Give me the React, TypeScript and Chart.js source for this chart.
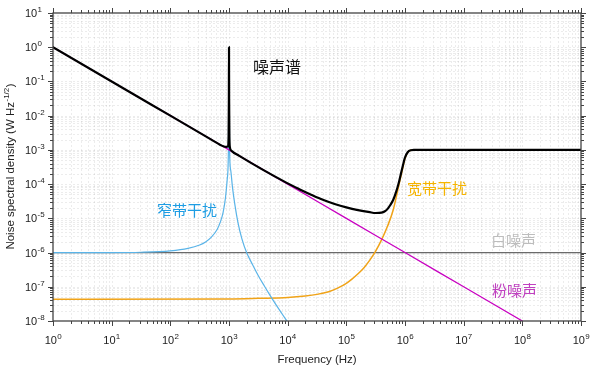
import React, { useEffect, useRef } from "react";
import { Chart, registerables } from "chart.js";

Chart.register(...registerables);

// ---- data ----
const xTickExponents = ["0", "1", "2", "3", "4", "5", "6", "7", "8", "9"];
const yTickExponents = ["1", "0", "-1", "-2", "-3", "-4", "-5", "-6", "-7", "-8"];

const totalFreq = [1, 10, 100, 500, 800, 900, 960, 985, 995, 1000, 1005, 1015, 1040, 1100, 1500, 1e4, 1.58e4, 2.51e4, 3.98e4, 6.31e4, 1e5, 1.58e5, 2.51e5, 3.16e5, 3.98e5, 4.47e5, 5.01e5, 5.62e5, 6.31e5, 7.08e5, 7.94e5, 8.91e5, 1e6, 1.12e6, 1.26e6, 1.41e6, 1e9];
const totalValue = [1, 0.1, 0.01, 2.0e-3, 1.27e-3, 1.22e-3, 1.25e-3, 2.5e-3, 0.03, 1.0, 0.03, 2.5e-3, 1.15e-3, 9.5e-4, 6.7e-4, 1.05e-4, 7.1e-5, 4.9e-5, 3.47e-5, 2.63e-5, 2.09e-5, 1.74e-5, 1.51e-5, 1.43e-5, 1.47e-5, 1.58e-5, 1.86e-5, 2.45e-5, 3.5e-5, 6.0e-5, 1.2e-4, 2.75e-4, 6.0e-4, 8.7e-4, 9.8e-4, 1e-3, 1e-3];

const pinkFreq = [1, 10, 100, 1e3, 1e4, 1e5, 1e6, 1e7, 1e8];
const pinkValue = [1, 0.1, 0.01, 1e-3, 1e-4, 1e-5, 1e-6, 1e-7, 1e-8];

const whiteFreq = [1, 1e9];
const whiteValue = [1e-6, 1e-6];

const narrowFreq = [1, 10, 31.6, 100, 200, 316, 398, 501, 631, 708, 794, 871, 933, 977, 1000, 1023, 1072, 1148, 1259, 1413, 1660, 1995, 2512, 3162, 3981, 5012, 6310, 7943, 10470];
const narrowValue = [1e-6, 1e-6, 1.02e-6, 1.12e-6, 1.32e-6, 1.66e-6, 2.04e-6, 2.82e-6, 4.8e-6, 7.6e-6, 1.5e-5, 4e-5, 1.4e-4, 1e-3, 1, 1e-3, 2.5e-4, 7.9e-5, 2.5e-5, 7.9e-6, 2.5e-6, 1e-6, 4.5e-7, 2.1e-7, 1.07e-7, 5.6e-8, 3.0e-8, 1.66e-8, 8.3e-9];

const broadFreq = [1, 1000, 3162, 1e4, 2e4, 3.16e4, 5.01e4, 7.08e4, 1e5, 1.26e5, 1.58e5, 2e5, 2.51e5, 3.16e5, 3.98e5, 5.01e5, 6.31e5, 7.94e5, 8.91e5, 1e6, 1.12e6, 1.26e6, 1.41e6, 1e9];
const broadValue = [4.3e-8, 4.4e-8, 4.6e-8, 4.9e-8, 5.4e-8, 6.0e-8, 7.2e-8, 9.1e-8, 1.26e-7, 1.7e-7, 2.4e-7, 3.6e-7, 6.0e-7, 1.1e-6, 2.34e-6, 5.75e-6, 1.78e-5, 1.0e-4, 2.4e-4, 5.6e-4, 8.6e-4, 9.8e-4, 1e-3, 1e-3];

const X_MIN = 1;
const X_MAX = 1e9;
const Y_MIN = 1e-8;
const Y_MAX = 10;

const toPoints = (xs: number[], ys: number[]) => xs.map((x, i) => ({ x, y: ys[i] }));

const LATIN = '"Liberation Sans", Arial, sans-serif';
const CJK = '"Noto Sans CJK SC", sans-serif';

function decadeValues(min: number, max: number): { v: number; major: boolean }[] {
  const out: { v: number; major: boolean }[] = [];
  const e0 = Math.round(Math.log10(min));
  const e1 = Math.round(Math.log10(max));
  for (let e = e0; e <= e1; e++) {
    for (let m = 1; m <= 9; m++) {
      const v = m * Math.pow(10, e);
      if (v > max * 1.0001) break;
      out.push({ v, major: m === 1 });
    }
  }
  return out;
}

function drawPow(ctx: CanvasRenderingContext2D, exp: string, x: number, y: number, align: "center" | "left") {
  ctx.font = `11px ${LATIN}`;
  const wb = ctx.measureText("10").width;
  ctx.font = `8px ${LATIN}`;
  const we = ctx.measureText(exp).width;
  const total = wb + we;
  const sx = align === "center" ? x - total / 2 : x;
  ctx.font = `11px ${LATIN}`;
  ctx.fillText("10", sx, y);
  ctx.font = `8px ${LATIN}`;
  ctx.fillText(exp, sx + wb + 0.3, y - 5);
}

const framePlugin = {
  id: "frameAndLabels",
  beforeDatasetsDraw(chart: any) {
    const { ctx, chartArea: a, scales } = chart;
    const xs = scales.x;
    const ys = scales.y;
    ctx.save();
    ctx.strokeStyle = "rgba(0,0,0,0.075)";
    ctx.lineWidth = 1;
    ctx.setLineDash([2, 2]);
    for (const t of decadeValues(X_MIN, X_MAX)) {
      const px = Math.round(xs.getPixelForValue(t.v)) + 0.5;
      if (px <= a.left + 1 || px >= a.right - 1) continue;
      ctx.beginPath();
      ctx.moveTo(px, a.top);
      ctx.lineTo(px, a.bottom);
      ctx.stroke();
    }
    for (const t of decadeValues(Y_MIN, Y_MAX)) {
      const py = Math.round(ys.getPixelForValue(t.v)) + 0.5;
      if (py <= a.top + 1 || py >= a.bottom - 1) continue;
      ctx.beginPath();
      ctx.moveTo(a.left, py);
      ctx.lineTo(a.right, py);
      ctx.stroke();
    }
    ctx.restore();
  },
  afterDatasetsDraw(chart: any) {
    const { ctx, chartArea: a, scales } = chart;
    const xs = scales.x;
    const ys = scales.y;
    ctx.save();
    ctx.setLineDash([]);
    // frame
    ctx.strokeStyle = "#444";
    ctx.lineWidth = 1.3;
    ctx.strokeRect(a.left, a.top, a.right - a.left, a.bottom - a.top);
    // ticks
    ctx.lineWidth = 1;
    ctx.strokeStyle = "#444";
    for (const t of decadeValues(X_MIN, X_MAX)) {
      const px = Math.round(xs.getPixelForValue(t.v)) + 0.5;
      const len = t.major ? 5 : 3;
      ctx.beginPath();
      ctx.moveTo(px, a.bottom);
      ctx.lineTo(px, a.bottom + len);
      ctx.moveTo(px, a.top);
      ctx.lineTo(px, a.top - len);
      ctx.stroke();
    }
    for (const t of decadeValues(Y_MIN, Y_MAX)) {
      const py = Math.round(ys.getPixelForValue(t.v)) + 0.5;
      const len = t.major ? 5 : 3;
      ctx.beginPath();
      ctx.moveTo(a.left, py);
      ctx.lineTo(a.left - len, py);
      ctx.moveTo(a.right, py);
      ctx.lineTo(a.right + len, py);
      ctx.stroke();
    }
    // tick labels
    ctx.fillStyle = "#222";
    ctx.textAlign = "left";
    ctx.textBaseline = "alphabetic";
    xTickExponents.forEach((e) => {
      const px = xs.getPixelForValue(Math.pow(10, Number(e)));
      drawPow(ctx, e, px, 344, "center");
    });
    yTickExponents.forEach((e) => {
      const py = ys.getPixelForValue(Math.pow(10, Number(e)));
      drawPow(ctx, e, 25, py + 4, "left");
    });
    // x title
    ctx.font = `11.5px ${LATIN}`;
    ctx.textAlign = "center";
    ctx.fillText("Frequency (Hz)", (a.left + a.right) / 2, 363);
    // y title
    ctx.save();
    ctx.translate(14, (a.top + a.bottom) / 2);
    ctx.rotate(-Math.PI / 2);
    ctx.textAlign = "left";
    const main = "Noise spectral density (W Hz";
    const sup = "-1/2";
    const close = ")";
    ctx.font = `11.5px ${LATIN}`;
    const w1 = ctx.measureText(main).width;
    const w3 = ctx.measureText(close).width;
    ctx.font = `8px ${LATIN}`;
    const w2 = ctx.measureText(sup).width;
    const start = -(w1 + w2 + w3) / 2;
    ctx.font = `11.5px ${LATIN}`;
    ctx.fillText(main, start, 0);
    ctx.font = `8px ${LATIN}`;
    ctx.fillText(sup, start + w1 + 0.5, -5);
    ctx.font = `11.5px ${LATIN}`;
    ctx.fillText(close, start + w1 + w2 + 1, 0);
    ctx.restore();
    // annotations
    ctx.textAlign = "left";
    ctx.textBaseline = "middle";
    const notes: [string, number, number, string, number][] = [
      ["噪声谱", 253, 67, "#111111", 16],
      ["窄带干扰", 157, 210, "#1E9DE3", 15],
      ["宽带干扰", 407, 188, "#F5B400", 15],
      ["白噪声", 491, 240, "#BDBDBD", 15],
      ["粉噪声", 492, 290, "#C040C0", 15],
    ];
    for (const [txt, x, y, c, s] of notes) {
      ctx.font = `${s}px ${CJK}`;
      ctx.fillStyle = c;
      ctx.fillText(txt, x, y);
    }
    ctx.restore();
  },
};

export default function App() {
  const ref = useRef<HTMLCanvasElement | null>(null);
  useEffect(() => {
    if (!ref.current) return;
    const line = (data: any[], color: string, width: number) => ({
      data,
      borderColor: color,
      backgroundColor: color,
      borderWidth: width,
      pointRadius: 0,
      fill: false,
      cubicInterpolationMode: "monotone" as const,
      borderJoinStyle: "round" as const,
      borderCapStyle: "round" as const,
    });
    const chart = new Chart(ref.current, {
      type: "line",
      data: {
        datasets: [
          line(toPoints(totalFreq, totalValue), "#000000", 2.2),
          line(toPoints(pinkFreq, pinkValue), "#C800C0", 1.3),
          line(toPoints(narrowFreq, narrowValue), "#5AB4E8", 1.2),
          line(toPoints(broadFreq, broadValue), "#F0A318", 1.5),
          line(toPoints(whiteFreq, whiteValue), "#6A6A6A", 1.3),
        ],
      },
      options: {
        responsive: false,
        animation: false,
        devicePixelRatio: 1,
        parsing: false as any,
        layout: { padding: { left: 53, top: 13, right: 19, bottom: 48 } },
        plugins: { legend: { display: false }, tooltip: { enabled: false } },
        scales: {
          x: { type: "logarithmic", min: X_MIN, max: X_MAX, display: false },
          y: { type: "logarithmic", min: Y_MIN, max: Y_MAX, display: false },
        },
      },
      plugins: [framePlugin],
    });
    return () => chart.destroy();
  }, []);
  return (
    <div style={{ position: "absolute", left: 0, top: 0, width: 600, height: 369, background: "#fff" }}>
      <canvas ref={ref} width={600} height={369} style={{ width: 600, height: 369, display: "block" }} />
    </div>
  );
}
